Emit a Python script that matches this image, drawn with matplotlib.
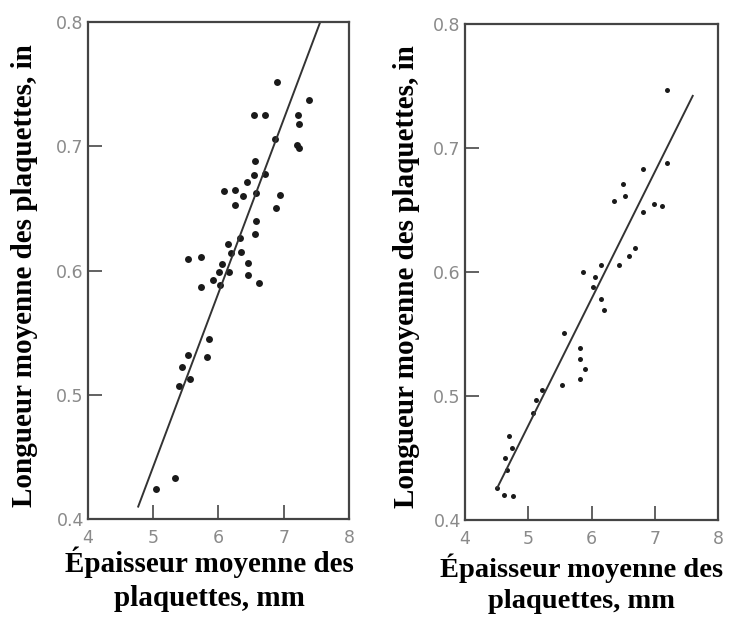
import numpy as np
import matplotlib
matplotlib.use('Agg')
import matplotlib.pyplot as plt

# Left panel data
left_x = [6.89, 7.39, 6.54, 6.71, 7.22, 7.24, 6.87, 7.21, 7.23, 6.56,
          6.55, 6.71, 6.44, 6.09, 6.26, 6.37, 6.58, 6.94, 6.26, 6.88,
          6.57, 6.56, 6.33, 6.14, 6.35, 6.19, 5.54, 5.73, 6.45, 6.06,
          6.16, 6.45, 6.01, 5.92, 5.73, 6.03, 6.62, 5.86, 5.53, 5.82,
          5.44, 5.57, 5.40, 5.33, 5.04]
left_y = [0.752, 0.737, 0.725, 0.725, 0.725, 0.718, 0.706, 0.701, 0.699, 0.688,
          0.677, 0.678, 0.671, 0.664, 0.665, 0.660, 0.662, 0.661, 0.653, 0.650,
          0.640, 0.629, 0.626, 0.621, 0.615, 0.614, 0.609, 0.611, 0.606, 0.605,
          0.599, 0.596, 0.599, 0.592, 0.587, 0.588, 0.590, 0.545, 0.532, 0.530,
          0.522, 0.513, 0.507, 0.433, 0.424]
left_line_x = [4.77, 7.56]
left_line_y = [0.410, 0.800]

# Right panel data
right_x = [7.19, 7.20, 6.81, 6.49, 6.53, 6.35, 6.98, 7.11, 6.82, 6.68,
           6.60, 6.44, 6.15, 5.87, 6.06, 6.03, 6.15, 6.20, 5.57, 5.81,
           5.81, 5.90, 5.81, 5.53, 5.22, 5.12, 5.07, 4.69, 4.75, 4.63,
           4.67, 4.51, 4.61, 4.76]
right_y = [0.747, 0.688, 0.683, 0.671, 0.661, 0.657, 0.655, 0.653, 0.648, 0.619,
           0.613, 0.606, 0.606, 0.600, 0.596, 0.588, 0.578, 0.569, 0.551, 0.539,
           0.530, 0.522, 0.514, 0.509, 0.505, 0.497, 0.486, 0.468, 0.458, 0.450,
           0.440, 0.426, 0.420, 0.419]
right_line_x = [4.51, 7.60]
right_line_y = [0.426, 0.742]

x_ticks = [4, 5, 6, 7, 8]
y_ticks = [0.4, 0.5, 0.6, 0.7, 0.8]
y_ticklabels = ['0.4', '0.5', '0.6', '0.7', '0.8']
xlabel = "Épaisseur moyenne des\nplaquettes, mm"
ylabel = "Longueur moyenne des plaquettes, in"

fig = plt.figure(figsize=(7.30, 6.17), dpi=100)
ax1 = fig.add_axes([0.1205, 0.1588, 0.3575, 0.8055])
ax2 = fig.add_axes([0.637, 0.1572, 0.3466, 0.804])

label_font = dict(family='Liberation Serif', fontweight='bold', fontsize=21)

def style(ax, ms, x, y, lx, ly):
    ax.plot(x, y, 'o', color='#1a1a1a', markersize=ms, markeredgewidth=0)
    ax.plot(lx, ly, '-', color='#333333', linewidth=1.4)
    ax.set_xlim(4, 8)
    ax.set_ylim(0.4, 0.8)
    ax.set_xticks(x_ticks)
    ax.set_yticks(y_ticks)
    ax.set_xticklabels([str(t) for t in x_ticks])
    ax.set_yticklabels(y_ticklabels)
    ax.tick_params(direction='in', length=10, width=1.3, color='#555555',
                   labelsize=12.5, labelcolor='#8a8a8a')
    ax.tick_params(axis='x', pad=7)
    ax.tick_params(axis='y', pad=3)
    for s in ax.spines.values():
        s.set_linewidth(1.6)
        s.set_color('#444444')
    # no visible tick marks at the corners
    for t in [ax.xaxis.get_major_ticks()[0], ax.xaxis.get_major_ticks()[-1],
              ax.yaxis.get_major_ticks()[0], ax.yaxis.get_major_ticks()[-1]]:
        t.tick1line.set_visible(False)

style(ax1, 5.0, left_x, left_y, left_line_x, left_line_y)
style(ax2, 3.6, right_x, right_y, right_line_x, right_line_y)

for ax in (ax1, ax2):
    ax.set_xlabel(xlabel, linespacing=1.3, va='top', **label_font)
    ax.set_ylabel(ylabel, va='center', **label_font)
ax2.xaxis.label.set_fontsize(20.5)

ax1.xaxis.set_label_coords(0.465, -0.056)
ax2.xaxis.set_label_coords(0.46, -0.068)
ax1.yaxis.set_label_coords(-0.245, 0.49)
ax2.yaxis.set_label_coords(-0.232, 0.49)

fig.savefig('out.png', dpi=100)
